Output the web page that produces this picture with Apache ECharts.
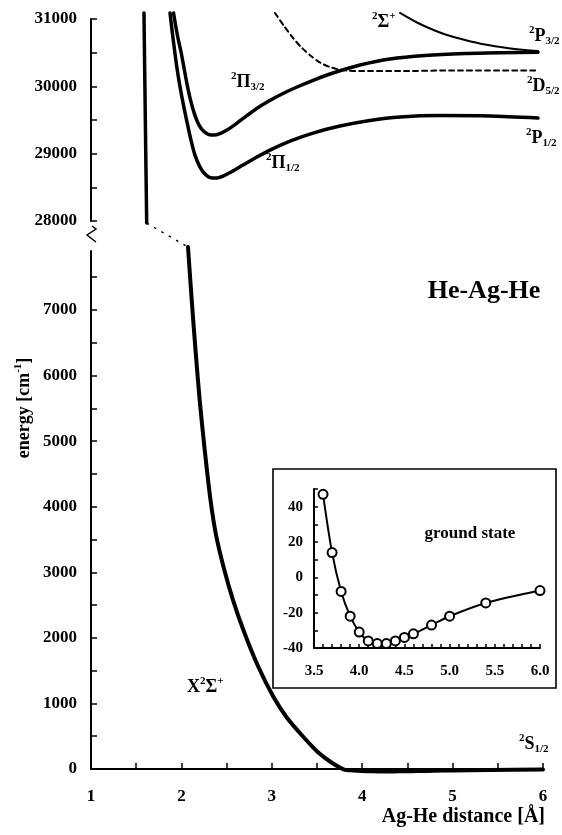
<!DOCTYPE html>
<html><head><meta charset="utf-8">
<script src="https://cdn.jsdelivr.net/npm/echarts@6/dist/echarts.min.js"></script>
<style>html,body{margin:0;padding:0;background:#fff}#c{width:562px;height:835px}</style>
</head><body><div id="c"></div>
<script>
// ---------- data ----------
const groundTop = [[1.586,31090],[1.601,29500],[1.616,27970]];
const groundBottom = [[2.073,7961],[2.114,7153],[2.156,6390],[2.202,5628],[2.258,4865],[2.322,4103],[2.383,3569],[2.466,3081],[2.571,2577],[2.698,2074],[2.847,1571],[3.019,1098],[3.17,778],[3.35,488],[3.508,259],[3.652,107],[3.8,-8],[3.9,-22],[4.0,-31],[4.1,-36],[4.2,-37.5],[4.3,-37.5],[4.4,-36],[4.5,-34],[4.6,-32],[4.8,-27],[5.0,-22],[5.4,-14.5],[6.0,-7.5]];
const pi32 = [[1.913,31090],[1.935,30911],[1.962,30718],[1.996,30510],[2.029,30272],[2.062,30034],[2.101,29796],[2.145,29588],[2.195,29425],[2.25,29328],[2.305,29284],[2.361,29276],[2.427,29299],[2.504,29351],[2.593,29432],[2.704,29544],[2.825,29663],[2.958,29774],[3.113,29886],[3.279,29990],[3.478,30101],[3.677,30198],[3.976,30316],[4.308,30406],[4.695,30458],[5.137,30487],[5.524,30498],[5.945,30505]];
const pi12 = [[1.874,31090],[1.896,30837],[1.924,30539],[1.951,30272],[1.985,29990],[2.023,29722],[2.062,29470],[2.106,29202],[2.15,28979],[2.206,28801],[2.261,28697],[2.317,28645],[2.383,28637],[2.46,28667],[2.56,28734],[2.681,28830],[2.825,28942],[2.98,29053],[3.201,29187],[3.456,29306],[3.754,29410],[4.086,29492],[4.418,29544],[4.861,29566],[5.414,29559],[5.945,29529]];
const d52 = [[3.035,31090],[3.135,30896],[3.235,30718],[3.334,30569],[3.434,30450],[3.533,30354],[3.644,30287],[3.777,30242],[3.976,30227],[4.418,30227],[4.971,30235],[5.945,30235]];
const sigma = [[4.418,31090],[4.584,30963],[4.75,30859],[4.938,30762],[5.137,30688],[5.358,30621],[5.602,30569],[5.801,30539],[5.945,30524]];
const insetX = [3.6,3.7,3.8,3.9,4.0,4.1,4.2,4.3,4.4,4.5,4.6,4.8,5.0,5.4,6.0];
const insetY = [47,14,-8,-22,-31,-36,-37.5,-37.5,-36,-34,-32,-27,-22,-14.5,-7.5];
// ticks / tick labels
const mainXTicks = [1,1.5,2,2.5,3,3.5,4,4.5,5,5.5,6];
const mainXLabels = [1,2,3,4,5,6];
const topYTicks = [28000,28500,29000,29500,30000,30500,31000];
const topYLabels = [28000,29000,30000,31000];
const botYTicks = [0,500,1000,1500,2000,2500,3000,3500,4000,4500,5000,5500,6000,6500,7000,7500];
const botYLabels = [0,1000,2000,3000,4000,5000,6000,7000];
const insetXTicks = [3.5,3.6,3.7,3.8,3.9,4.0,4.1,4.2,4.3,4.4,4.5,4.6,4.7,4.8,4.9,5.0,5.1,5.2,5.3,5.4,5.5,5.6,5.7,5.8,5.9,6.0];
const insetXLabels = [3.5,4.0,4.5,5.0,5.5,6.0];
const insetYTicks = [-40,-30,-20,-10,0,10,20,30,40,50];
const insetYLabels = [-40,-20,0,20,40];

// ---------- styling ----------
const F = '"Liberation Serif","Times New Roman",serif';
const chart = echarts.init(document.getElementById('c'), null, {renderer:'canvas'});

function yAx(grid, min, max, ticks, labels, fs, margin, tlen){
  return {type:'value', gridIndex:grid, min, max,
    axisLine:{show:true, lineStyle:{color:'#000', width:2}},
    axisTick:{show:true, inside:true, length:tlen, customValues:ticks, lineStyle:{color:'#000', width:1.5}},
    axisLabel:{customValues:labels, color:'#000', fontFamily:F, fontWeight:'bold', fontSize:fs, margin, formatter:v=>String(v)},
    splitLine:{show:false}};
}
function xAx(grid, min, max, ticks, labels, fs, margin, tlen, fmt, show){
  return {type:'value', gridIndex:grid, min, max, show: show!==false,
    axisLine:{show:true, onZero:false, lineStyle:{color:'#000', width:2}},
    axisTick:{show:true, inside:true, length:tlen, customValues:ticks, lineStyle:{color:'#000', width:1.5}},
    axisLabel:{customValues:labels, color:'#000', fontFamily:F, fontWeight:'bold', fontSize:fs, margin, formatter:fmt||(v=>String(v))},
    splitLine:{show:false}};
}
function ln(xi, data, width, type, extra){
  return Object.assign({type:'line', xAxisIndex:xi, yAxisIndex:xi, data, showSymbol:false, symbol:'none',
    smooth:0.25, clip:false, silent:true,
    lineStyle:{color:'#000', width, type:type||'solid', cap:'round', join:'round'}}, extra||{});
}

const option = {
  animation:false,
  backgroundColor:'#fff',
  grid:[
    {left:91, top:19, width:452, height:202},
    {left:91, top:251, width:452, height:518},
    {left:314, top:489, width:226, height:159}
  ],
  xAxis:[
    xAx(0,1,6,mainXTicks,mainXLabels,17,19,6,null,false),
    xAx(1,1,6,mainXTicks,mainXLabels,17,19,6),
    xAx(2,3.5,6,insetXTicks,insetXLabels,15,16,4,v=>v.toFixed(1))
  ],
  yAxis:[
    yAx(0,28000,31000,topYTicks,topYLabels,17,14,6),
    yAx(1,0,7900,botYTicks,botYLabels,17,14,6),
    yAx(2,-40,50,insetYTicks,insetYLabels,15,11,4)
  ],
  series:[
    ln(0, groundTop, 3.5),
    ln(0, pi32, 3.5),
    ln(0, pi12, 3.5),
    ln(0, d52, 2, [5,4]),
    ln(0, sigma, 2),
    ln(1, groundBottom, 4),
    {type:'line', xAxisIndex:2, yAxisIndex:2, data:insetX.map((x,i)=>[x,insetY[i]]),
     smooth:0.3, symbol:'circle', symbolSize:9, showSymbol:true, silent:true,
     itemStyle:{color:'#fff', borderColor:'#000', borderWidth:2},
     lineStyle:{color:'#000', width:2}, z:5}
  ]
};
chart.setOption(option);

// ---------- annotations ----------
const RICH = {
  m:{fontSize:18, fontWeight:'bold', fontFamily:F, fill:'#000', lineHeight:22},
  sup:{fontSize:11, fontWeight:'bold', fontFamily:F, fill:'#000', lineHeight:11, verticalAlign:'top'},
  sub:{fontSize:11, fontWeight:'bold', fontFamily:F, fill:'#000', lineHeight:11, verticalAlign:'bottom'}
};
function T(x, y, text, extra){
  return {type:'text', x, y, z:20, silent:true,
    style:Object.assign({text, fill:'#000', font:'bold 18px '+F, rich:RICH,
      align:'left', verticalAlign:'middle', textAlign:'left', textVerticalAlign:'middle'}, extra||{})};
}
const pWall = chart.convertToPixel({xAxisIndex:0, yAxisIndex:0}, groundTop[groundTop.length-1]);
const pBot = chart.convertToPixel({xAxisIndex:1, yAxisIndex:1}, groundBottom[0]);
const x0 = chart.convertToPixel({xAxisIndex:1}, 1);
const yA = chart.convertToPixel({yAxisIndex:0}, 28000);

const graphics = [
  {type:'rect', z:1, silent:true, shape:{x:273, y:469, width:283, height:219},
   style:{fill:'transparent', stroke:'#000', lineWidth:1.6}},
  {type:'line', z:3, silent:true, shape:{x1:pWall[0], y1:pWall[1], x2:pBot[0], y2:pBot[1]},
   style:{stroke:'#000', lineWidth:1.5, lineDash:[2.5,6]}},
  {type:'polyline', z:3, silent:true, shape:{points:[[x0+1,yA+5],[x0+5,yA+8],[x0-4,yA+14],[x0+5,yA+21]]},
   style:{stroke:'#000', lineWidth:1.5, fill:'none'}},
  T(372, 22, '{sup|2}{m|Σ}{sup|+}'),
  T(529, 36, '{sup|2}{m|P}{sub|3/2}'),
  T(527, 86, '{sup|2}{m|D}{sub|5/2}'),
  T(526, 138, '{sup|2}{m|P}{sub|1/2}'),
  T(231, 82, '{sup|2}{m|Π}{sub|3/2}'),
  T(266, 163, '{sup|2}{m|Π}{sub|1/2}'),
  T(187, 687, '{m|X}{sup|2}{m|Σ}{sup|+}'),
  T(519, 744, '{sup|2}{m|S}{sub|1/2}'),
  T(484, 291, 'He-Ag-He', {font:'bold 26px '+F, align:'center', textAlign:'center'}),
  T(470, 534, 'ground state', {font:'bold 17px '+F, align:'center', textAlign:'center'}),
  T(545, 817, 'Ag-He distance [Å]', {font:'bold 20px '+F, align:'right', textAlign:'right'}),
  {type:'text', x:24, y:408, rotation:Math.PI/2, z:20, silent:true,
   style:{text:'{m|energy [cm}{sup|-1}{m|]}', rich:{
     m:{fontSize:18, fontWeight:'bold', fontFamily:F, fill:'#000', lineHeight:22},
     sup:{fontSize:11, fontWeight:'bold', fontFamily:F, fill:'#000', lineHeight:11, verticalAlign:'top'}},
     align:'center', verticalAlign:'middle', textAlign:'center', textVerticalAlign:'middle'}}
];
chart.setOption({graphic:graphics});
</script>
</body></html>
